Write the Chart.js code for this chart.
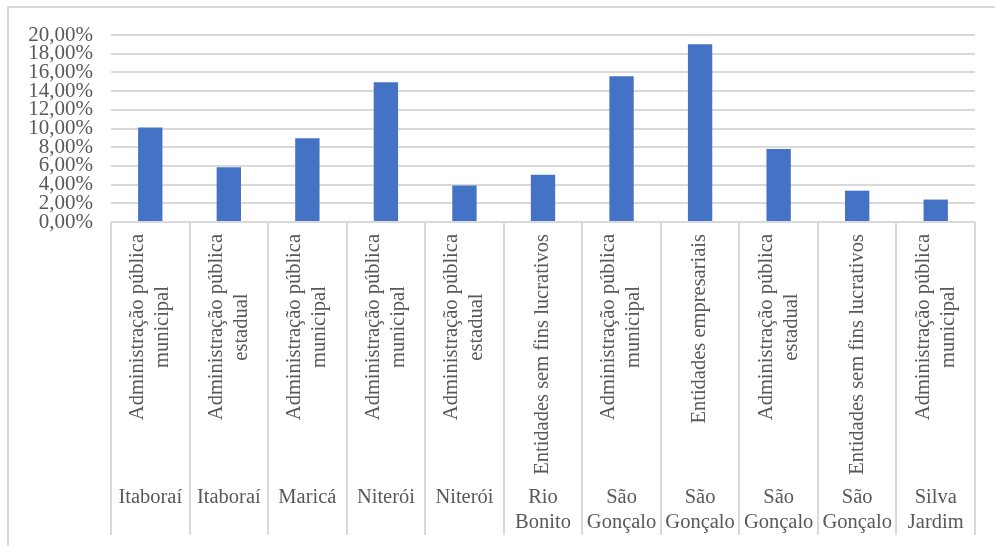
<!DOCTYPE html>
<html lang="pt">
<head>
  <meta charset="UTF-8">
  <title>Participação por município e natureza jurídica</title>
  <script src="https://cdn.jsdelivr.net/npm/chart.js"></script>
  <style>
    html, body {
      margin: 0;
      padding: 0;
      background: white;
      overflow: hidden;
    }
    #wrap {
      position: relative;
      width: 995px;
      height: 546px;
    }
    #frame {
      position: absolute;
      left: 7px;
      top: 6px;
      width: 1000px;
      height: 600px;
      border-left: 2px solid #d9d9d9;
      border-top: 2px solid #d9d9d9;
    }
    canvas {
      position: absolute;
      left: 0;
      top: 0;
    }
  </style>
</head>
<body>

<div id="wrap">
  <div id="frame"></div>
  <canvas id="chart" width="995" height="546"></canvas>
</div>

<script>
  // categorias (município / natureza jurídica) e valores em %
  const cities = [
    ["Itaboraí"], ["Itaboraí"], ["Maricá"], ["Niterói"], ["Niterói"],
    ["Rio", "Bonito"], ["São", "Gonçalo"], ["São", "Gonçalo"],
    ["São", "Gonçalo"], ["São", "Gonçalo"], ["Silva", "Jardim"]
  ];
  const types = [
    ["Administração pública", "municipal"],
    ["Administração pública", "estadual"],
    ["Administração pública", "municipal"],
    ["Administração pública", "municipal"],
    ["Administração pública", "estadual"],
    ["Entidades sem fins lucrativos"],
    ["Administração pública", "municipal"],
    ["Entidades empresariais"],
    ["Administração pública", "estadual"],
    ["Entidades sem fins lucrativos"],
    ["Administração pública", "municipal"]
  ];
  const shares = [10.1, 5.85, 8.95, 14.95, 3.9, 5.05, 15.6, 19.0, 7.8, 3.35, 2.4];
  const yTicks = [0, 2, 4, 6, 8, 10, 12, 14, 16, 18, 20];

  const textColor = "#595959";
  const gridColor = "#d9d9d9";
  const serif = "'Liberation Serif', 'Times New Roman', serif";

  // divisórias verticais e rótulos em dois níveis abaixo do eixo
  const categoryLabels = {
    id: "categoryLabels",
    afterDraw(chart) {
      const ctx = chart.ctx;
      const x = chart.scales.x;
      const area = chart.chartArea;
      const step = x.getPixelForValue(1) - x.getPixelForValue(0);
      const bottom = 535;

      ctx.save();
      ctx.strokeStyle = gridColor;
      ctx.lineWidth = 2;
      for (let i = 0; i <= shares.length; i++) {
        const px = Math.round(x.getPixelForValue(i) - step / 2);
        ctx.beginPath();
        ctx.moveTo(px, area.bottom);
        ctx.lineTo(px, bottom);
        ctx.stroke();
      }

      ctx.fillStyle = textColor;
      ctx.font = "20.5px " + serif;
      ctx.textAlign = "center";
      ctx.textBaseline = "middle";

      // natureza jurídica, girada 90°
      const topY = 234;
      types.forEach((lines, i) => {
        const cx = x.getPixelForValue(i);
        const w = Math.max(...lines.map(l => ctx.measureText(l).width));
        lines.forEach((line, j) => {
          ctx.save();
          ctx.translate(cx + (j - (lines.length - 1) / 2) * 25, topY + w / 2);
          ctx.rotate(-Math.PI / 2);
          ctx.fillText(line, 0, 0);
          ctx.restore();
        });
      });

      // municípios
      cities.forEach((lines, i) => {
        const cx = x.getPixelForValue(i);
        lines.forEach((line, j) => {
          ctx.fillText(line, cx, 498 + j * 25);
        });
      });
      ctx.restore();
    }
  };

  new Chart(document.getElementById("chart"), {
    type: "bar",
    data: {
      labels: cities.map((c, i) => c.join(" ") + " - " + types[i].join(" ")),
      datasets: [{
        data: shares,
        backgroundColor: "#4472c4",
        borderWidth: 0,
        categoryPercentage: 1,
        barPercentage: 0.31
      }]
    },
    options: {
      responsive: false,
      animation: false,
      layout: {
        padding: { top: 35, right: 20, bottom: 324, left: 0 }
      },
      plugins: {
        legend: { display: false },
        tooltip: { enabled: false }
      },
      scales: {
        x: {
          display: false
        },
        y: {
          min: 0,
          max: 20,
          afterFit: scale => { scale.width = 111; },
          afterBuildTicks: scale => {
            scale.ticks = yTicks.map(v => ({ value: v }));
          },
          border: { display: false },
          grid: {
            color: gridColor,
            lineWidth: 2,
            drawTicks: false
          },
          ticks: {
            autoSkip: false,
            padding: 18,
            color: textColor,
            font: { family: serif, size: 21, lineHeight: 1 },
            callback: v => v.toFixed(2).replace(".", ",") + "%"
          }
        }
      }
    },
    plugins: [categoryLabels]
  });
</script>

</body>
</html>
